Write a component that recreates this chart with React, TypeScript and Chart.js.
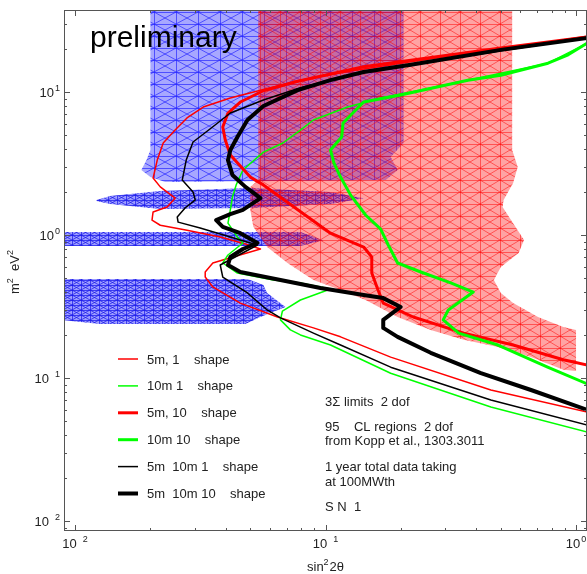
import React, { useEffect, useRef } from "react";
import { Chart, registerables } from "chart.js";

Chart.register(...registerables);

// axis ranges (log scales)
const X_MIN = 0.00904;
const X_MAX = 1.106;
const Y_MIN = 0.00851;
const Y_MAX = 37.45;

const xLabelExponents = [-2, -1, 0];
const yLabelExponents = [-2, -1, 0, 1];

// ---- 95% CL regions (Kopp et al.) ----
const blueMainX = [0.02, 0.205, 0.205, 0.182, 0.194, 0.174, 0.0229, 0.02, 0.0184, 0.0193, 0.02];
const blueMainY = [50, 50, 4.4, 3.51, 2.85, 2.42, 2.35, 2.54, 2.85, 3.34, 3.93];

const blueIsland1X = [0.0122, 0.0138, 0.0219, 0.0501, 0.1047, 0.142, 0.1047, 0.0501, 0.0219, 0.0138, 0.0122];
const blueIsland1Y = [1.76, 1.87, 2.03, 2.13, 2.0, 1.81, 1.65, 1.545, 1.52, 1.65, 1.73];

const blueIsland2X = [0.008, 0.0794, 0.098, 0.0794, 0.008];
const blueIsland2Y = [1.05, 1.05, 0.92, 0.838, 0.838];

const blueIsland3X = [0.008, 0.0488, 0.0565, 0.0585, 0.0692, 0.055, 0.0479, 0.0126, 0.008];
const blueIsland3Y = [0.492, 0.492, 0.447, 0.393, 0.314, 0.267, 0.239, 0.239, 0.259];

const redRegionX = [0.0539, 0.556, 0.556, 0.585, 0.561, 0.514, 0.509, 0.561, 0.62, 0.59, 0.501, 0.47, 0.501, 0.561, 0.705, 0.89, 1.0, 1.0, 0.89, 0.661, 0.488, 0.356, 0.263, 0.194, 0.1445, 0.1148, 0.0895, 0.0705, 0.0585, 0.0515, 0.0501, 0.0501, 0.0539];
const redRegionY = [50, 50, 3.93, 2.99, 2.31, 1.76, 1.57, 1.21, 0.923, 0.748, 0.597, 0.485, 0.393, 0.334, 0.267, 0.227, 0.217, 0.112, 0.114, 0.14, 0.165, 0.185, 0.217, 0.267, 0.351, 0.412, 0.485, 0.637, 0.824, 1.14, 1.5, 2.17, 2.42];

// ---- 3 sigma sensitivity contours ----
const red5m1X = [1.11, 0.501, 0.316, 0.2, 0.126, 0.0794, 0.055, 0.0417, 0.0325, 0.028, 0.0251, 0.0225, 0.0213, 0.0205, 0.0219, 0.0251, 0.0233, 0.0205, 0.0203, 0.0219, 0.028, 0.038, 0.0479, 0.055, 0.0389, 0.0355, 0.0331, 0.0331, 0.0355, 0.0457, 0.0643, 0.0895, 0.1148, 0.182, 0.457, 1.11];
const red5m1Y = [24.6, 20.0, 17.9, 15.9, 14.0, 12.1, 10.3, 9.08, 7.85, 6.58, 5.42, 4.4, 3.34, 2.5, 2.17, 1.81, 1.57, 1.45, 1.27, 1.17, 1.08, 0.968, 0.865, 0.798, 0.668, 0.637, 0.551, 0.508, 0.433, 0.334, 0.267, 0.224, 0.194, 0.14, 0.0824, 0.0578];

const green10m1X = [1.11, 0.773, 0.37, 0.219, 0.166, 0.1225, 0.0895, 0.0794, 0.0676, 0.0565, 0.0468, 0.044, 0.0425, 0.0417, 0.0408, 0.0445, 0.0468, 0.0408, 0.0389, 0.0445, 0.062, 0.0794, 0.1047, 0.0794, 0.0673, 0.0661, 0.0724, 0.0794, 0.1047, 0.182, 0.457, 1.11];
const green10m1Y = [22.0, 15.9, 12.1, 10.0, 9.08, 7.85, 6.37, 5.42, 4.4, 3.8, 2.85, 2.24, 1.84, 1.5, 1.21, 0.968, 0.879, 0.725, 0.637, 0.542, 0.485, 0.462, 0.419, 0.351, 0.294, 0.255, 0.217, 0.2, 0.17, 0.108, 0.0627, 0.0419];

const red5m10X = [1.11, 0.501, 0.219, 0.142, 0.0775, 0.0565, 0.0457, 0.0408, 0.0389, 0.0398, 0.0417, 0.0501, 0.0565, 0.0775, 0.1047, 0.142, 0.153, 0.153, 0.162, 0.17, 0.224, 0.356, 0.561, 0.89, 1.11];
const red5m10Y = [24.3, 20.3, 16.7, 15.0, 11.9, 10.2, 8.51, 7.13, 5.69, 4.61, 3.63, 2.54, 2.24, 1.5, 1.03, 0.824, 0.702, 0.542, 0.412, 0.334, 0.267, 0.206, 0.17, 0.134, 0.123];

const green10m10X = [1.11, 0.93, 0.773, 0.501, 0.37, 0.1995, 0.142, 0.1175, 0.116, 0.1047, 0.108, 0.1148, 0.126, 0.1445, 0.166, 0.178, 0.194, 0.24, 0.316, 0.389, 0.309, 0.295, 0.34, 0.488, 0.77, 1.11];
const green10m10Y = [22.0, 18.2, 15.9, 13.1, 12.1, 9.53, 8.51, 6.07, 4.85, 3.93, 3.19, 2.54, 1.9, 1.38, 1.1, 0.851, 0.637, 0.551, 0.462, 0.399, 0.299, 0.255, 0.206, 0.17, 0.119, 0.0908];

const black1X = [1.11, 0.501, 0.219, 0.142, 0.0794, 0.0565, 0.0417, 0.035, 0.0296, 0.0278, 0.0268, 0.0296, 0.0302, 0.0275, 0.0256, 0.0258, 0.0316, 0.0457, 0.0535, 0.038, 0.0389, 0.0488, 0.0585, 0.0661, 0.0895, 0.1148, 0.182, 0.457, 1.11];
const black1Y = [23.9, 19.4, 15.5, 13.8, 10.7, 8.79, 7.13, 5.6, 4.47, 3.34, 2.42, 2.0, 1.76, 1.545, 1.336, 1.23, 1.12, 0.923, 0.851, 0.617, 0.508, 0.393, 0.299, 0.263, 0.206, 0.17, 0.119, 0.0702, 0.0469];

const black10X = [1.11, 0.501, 0.219, 0.142, 0.1047, 0.0775, 0.0565, 0.0488, 0.0445, 0.0417, 0.0408, 0.0425, 0.0479, 0.055, 0.0468, 0.0417, 0.0366, 0.0389, 0.0457, 0.0535, 0.0468, 0.0417, 0.0408, 0.0457, 0.0661, 0.0955, 0.142, 0.17, 0.1995, 0.17, 0.17, 0.194, 0.263, 0.417, 0.661, 1.11];
const black10Y = [23.9, 19.7, 15.5, 13.8, 12.1, 10.3, 7.98, 6.37, 4.85, 3.93, 3.34, 2.63, 2.17, 1.81, 1.5, 1.4, 1.27, 1.14, 1.03, 0.879, 0.798, 0.702, 0.617, 0.551, 0.485, 0.426, 0.38, 0.362, 0.314, 0.255, 0.224, 0.194, 0.15, 0.108, 0.0824, 0.0598];

const legendLabels = [
  "5m, 1    shape",
  "10m 1    shape",
  "5m, 10    shape",
  "10m 10    shape",
  "5m  10m 1    shape",
  "5m  10m 10    shape",
];
const legendColors = ["#ff0000", "#00ff00", "#ff0000", "#00ff00", "#000000", "#000000"];
const legendWidths = [1.5, 1.5, 3, 3, 1.5, 4];

const noteLines = [
  "3Σ limits  2 dof",
  "95    CL regions  2 dof",
  "from Kopp et al., 1303.3011",
  "1 year total data taking",
  "at 100MWth",
  "S N  1",
];
const noteBaselines = [406, 431, 445, 471, 486, 511];

const FONT = '"Liberation Sans", Arial, Helvetica, sans-serif';
const BASE_FONT = `13px ${FONT}`;
const SUP_FONT = `9px ${FONT}`;

function toPts(xs: number[], ys: number[]) {
  return xs.map((x, i) => ({ x, y: ys[i] }));
}

function makeMesh(w: number, h: number, fill: string, stroke: string) {
  const c = document.createElement("canvas");
  c.width = w;
  c.height = h;
  const g = c.getContext("2d")!;
  g.fillStyle = fill;
  g.fillRect(0, 0, w, h);
  g.strokeStyle = stroke;
  g.lineWidth = 1;
  g.beginPath();
  g.moveTo(0.5, 0);
  g.lineTo(0.5, h);
  g.moveTo(0, 0.5);
  g.lineTo(w, 0.5);
  g.moveTo(0, h / 2 + 0.5);
  g.lineTo(w, h / 2 + 0.5);
  g.moveTo(0, 0);
  g.lineTo(w, h / 2);
  g.moveTo(0, h / 2);
  g.lineTo(w, 0);
  g.moveTo(0, h / 2);
  g.lineTo(w, h);
  g.moveTo(0, h);
  g.lineTo(w, h / 2);
  g.stroke();
  return g.createPattern(c, "repeat")!;
}

function drawPow(ctx: CanvasRenderingContext2D, exp: number, x: number, baseY: number, align: "center" | "right") {
  const base = "10";
  const sup = String(Math.abs(exp));
  ctx.font = BASE_FONT;
  const wb = ctx.measureText(base).width;
  ctx.font = SUP_FONT;
  const ws = ctx.measureText(sup).width;
  const gap = exp < 0 ? 6 : 1;
  const total = wb + gap + ws;
  const x0 = align === "center" ? x - total / 2 : x - total;
  ctx.font = BASE_FONT;
  ctx.fillText(base, x0, baseY);
  ctx.font = SUP_FONT;
  ctx.fillText(sup, x0 + wb + gap, baseY - 6);
}

const overlayPlugin = {
  id: "overlay",
  afterDraw(chart: any) {
    const ctx: CanvasRenderingContext2D = chart.ctx;
    const a = chart.chartArea;
    const xs = chart.scales.x;
    const ys = chart.scales.y;
    ctx.save();
    // ticks on all four sides
    ctx.strokeStyle = "#555";
    ctx.lineWidth = 1;
    ctx.beginPath();
    for (let d = -3; d <= 1; d++) {
      for (let m = 1; m <= 9; m++) {
        const v = m * Math.pow(10, d);
        if (v < X_MIN || v > X_MAX) continue;
        const px = Math.round(xs.getPixelForValue(v)) + 0.5;
        const len = m === 1 ? 6 : 3;
        ctx.moveTo(px, a.bottom);
        ctx.lineTo(px, a.bottom - len);
        ctx.moveTo(px, a.top);
        ctx.lineTo(px, a.top + len);
      }
    }
    for (let d = -3; d <= 2; d++) {
      for (let m = 1; m <= 9; m++) {
        const v = m * Math.pow(10, d);
        if (v < Y_MIN || v > Y_MAX) continue;
        const py = Math.round(ys.getPixelForValue(v)) + 0.5;
        const len = m === 1 ? 6 : 3;
        ctx.moveTo(a.left, py);
        ctx.lineTo(a.left + len, py);
        ctx.moveTo(a.right, py);
        ctx.lineTo(a.right - len, py);
      }
    }
    ctx.stroke();
    ctx.strokeRect(a.left + 0.5, a.top + 0.5, a.right - a.left - 1, a.bottom - a.top - 1);

    // tick labels
    ctx.fillStyle = "#222";
    ctx.textAlign = "left";
    ctx.textBaseline = "alphabetic";
    for (const e of xLabelExponents) {
      drawPow(ctx, e, xs.getPixelForValue(Math.pow(10, e)), 548, "center");
    }
    for (const e of yLabelExponents) {
      drawPow(ctx, e, 60, ys.getPixelForValue(Math.pow(10, e)) + 5, "right");
    }

    // axis titles
    ctx.save();
    ctx.translate(19, 272);
    ctx.rotate(-Math.PI / 2);
    const yParts: [string, boolean][] = [["m", false], ["2", true], ["  eV", false], ["2", true]];
    let tw = 0;
    for (const [t, s] of yParts) {
      ctx.font = s ? SUP_FONT : BASE_FONT;
      tw += ctx.measureText(t).width;
    }
    let cx = -tw / 2;
    for (const [t, s] of yParts) {
      ctx.font = s ? SUP_FONT : BASE_FONT;
      ctx.fillText(t, cx, s ? -6 : 0);
      cx += ctx.measureText(t).width;
    }
    ctx.restore();

    const xParts: [string, boolean][] = [["sin", false], ["2", true], ["2θ", false]];
    let xx = 307;
    for (const [t, s] of xParts) {
      ctx.font = s ? SUP_FONT : BASE_FONT;
      ctx.fillText(t, xx, s ? 565 : 571);
      xx += ctx.measureText(t).width + (s ? 1 : 0);
    }

    // "preliminary"
    ctx.fillStyle = "#000";
    ctx.font = `30px ${FONT}`;
    ctx.fillText("preliminary", 90, 47);

    // legend
    ctx.font = BASE_FONT;
    legendLabels.forEach((lab, i) => {
      const yc = 359 + i * 26.9;
      ctx.strokeStyle = legendColors[i];
      ctx.lineWidth = legendWidths[i];
      ctx.beginPath();
      ctx.moveTo(118, yc);
      ctx.lineTo(138, yc);
      ctx.stroke();
      ctx.fillStyle = "#222";
      ctx.fillText(lab, 147, yc + 4.5);
    });

    // notes
    ctx.fillStyle = "#222";
    noteLines.forEach((t, i) => ctx.fillText(t, 325, noteBaselines[i]));
    ctx.restore();
  },
};

export default function App() {
  const ref = useRef<HTMLCanvasElement>(null);
  useEffect(() => {
    const canvas = ref.current!;
    const blueMesh = makeMesh(22, 24, "rgba(60,60,255,0.45)", "rgba(40,40,255,0.7)");
    const blueDense = makeMesh(9, 10, "rgba(60,60,255,0.5)", "rgba(30,30,235,0.75)");
    const redMesh = makeMesh(20, 24, "rgba(255,0,0,0.36)", "rgba(255,0,0,0.5)");

    const region = (label: string, xs: number[], ys: number[], pat: any, order: number) => ({
      label,
      data: toPts(xs, ys),
      borderColor: "rgba(0,0,0,0)",
      borderWidth: 0,
      backgroundColor: pat,
      fill: "shape",
      pointRadius: 0,
      tension: 0,
      order,
    });
    const curve = (label: string, xs: number[], ys: number[], color: string, width: number, order: number) => ({
      label,
      data: toPts(xs, ys),
      borderColor: color,
      borderWidth: width,
      backgroundColor: color,
      fill: false,
      pointRadius: 0,
      tension: 0,
      borderJoinStyle: "round",
      borderCapStyle: "round",
      order,
    });

    const chart = new Chart(canvas, {
      type: "line",
      data: {
        datasets: [
          curve("5m 10m 10 shape", black10X, black10Y, "#000000", 4, 0),
          curve("5m 10m 1 shape", black1X, black1Y, "#000000", 1.5, 1),
          curve("10m 10 shape", green10m10X, green10m10Y, "#00ff00", 3, 2),
          curve("5m, 10 shape", red5m10X, red5m10Y, "#ff0000", 3, 3),
          curve("10m 1 shape", green10m1X, green10m1Y, "#00ff00", 1.5, 4),
          curve("5m, 1 shape", red5m1X, red5m1Y, "#ff0000", 1.5, 5),
          region("red CL region", redRegionX, redRegionY, redMesh, 10),
          region("blue CL region", blueMainX, blueMainY, blueMesh, 11),
          region("blue island 1", blueIsland1X, blueIsland1Y, blueDense, 12),
          region("blue island 2", blueIsland2X, blueIsland2Y, blueDense, 13),
          region("blue island 3", blueIsland3X, blueIsland3Y, blueDense, 14),
        ] as any,
      },
      options: {
        animation: false,
        responsive: false,
        maintainAspectRatio: false,
        events: [],
        layout: { padding: { left: 64, top: 10, right: 0, bottom: 43 } },
        plugins: { legend: { display: false }, tooltip: { enabled: false } },
        scales: {
          x: { type: "logarithmic", min: X_MIN, max: X_MAX, display: false, bounds: "data" },
          y: { type: "logarithmic", min: Y_MIN, max: Y_MAX, display: false, bounds: "data" },
        },
      } as any,
      plugins: [overlayPlugin],
    });
    return () => chart.destroy();
  }, []);
  return (
    <div style={{ position: "absolute", left: 0, top: 0, width: 587, height: 574, background: "#fff" }}>
      <canvas ref={ref} width={587} height={574} style={{ display: "block" }} />
    </div>
  );
}
